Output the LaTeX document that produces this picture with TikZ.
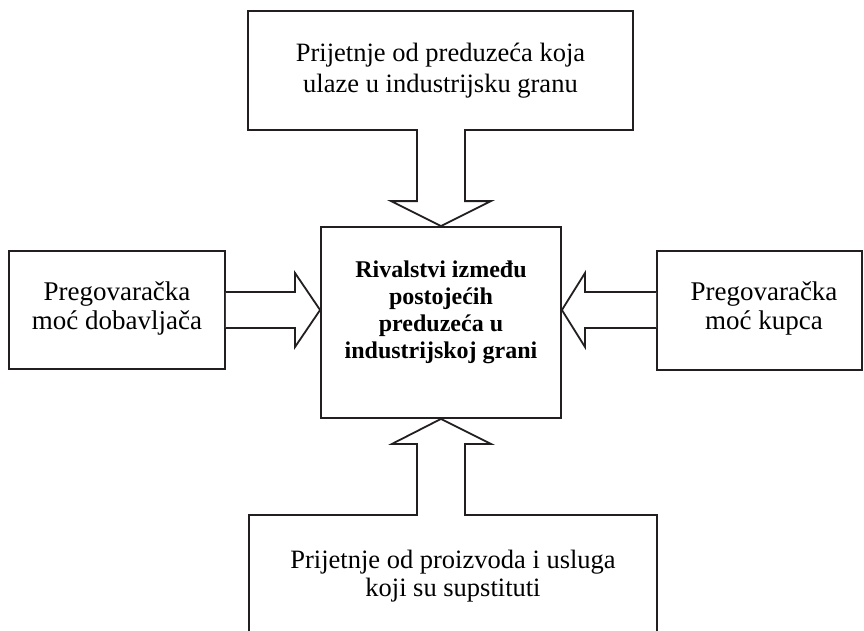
\documentclass[tikz,border=0pt]{standalone}
\usepackage{fontspec}
\setmainfont{Liberation Serif}
\usetikzlibrary{calc}
\definecolor{ink}{HTML}{231F20}
\tikzset{
  box/.style={draw=ink, line width=1.8pt, rectangle, inner sep=0pt},
  bigarrow/.style={draw=ink, line width=1.8pt, line join=miter, fill=white},
  txt/.style={align=center, inner sep=0pt, text=black},
}
\begin{document}
\begin{tikzpicture}[x=1pt,y=-1pt]
\useasboundingbox (0,0) rectangle (864,631);
\clip (0,0) rectangle (864,631);
% boxes
\node[box, minimum width=385pt, minimum height=119pt] (top) at (440.5,70.5) {};
\node[box, minimum width=216pt, minimum height=118pt] (left) at (117,310) {};
\node[box, minimum width=205pt, minimum height=119pt] (right) at (759.5,310.5) {};
\node[box, minimum width=240pt, minimum height=191pt] (cen) at (441,322.5) {};
\node[box, minimum width=408pt, minimum height=140pt] (bot) at (453,585) {};
% texts
\node[txt, font=\fontsize{26.5}{31}\selectfont] (toptxt) at (440.5,71) {Prijetnje od preduzeća koja\\ulaze u industrijsku granu};
\node[txt, font=\fontsize{27}{29}\selectfont] (lefttxt) at (117,308) {Pregovaračka\\moć dobavljača};
\node[txt, font=\fontsize{27}{29}\selectfont] (righttxt) at (764,308) {Pregovaračka\\moć kupca};
\node[txt, font=\bfseries\fontsize{24}{27}\selectfont] (centxt) at (441,312) {Rivalstvi između\\postojećih\\preduzeća u\\industrijskoj grani};
\node[txt, font=\fontsize{26.5}{28}\selectfont] (bottxt) at (453,576) {Prijetnje od proizvoda i usluga\\koji su supstituti};
% arrows
\draw[bigarrow] ($(cen.north)+(-24,-97)$) -- ($(cen.north)+(-24,-25)$) -- ($(cen.north)+(-50,-25)$) -- (cen.north) -- ($(cen.north)+(50,-25)$) -- ($(cen.north)+(24,-25)$) -- ($(cen.north)+(24,-97)$);
\draw[bigarrow] ($(cen.south)+(-24,97)$) -- ($(cen.south)+(-24,25)$) -- ($(cen.south)+(-49,25)$) -- (cen.south) -- ($(cen.south)+(50,25)$) -- ($(cen.south)+(24,25)$) -- ($(cen.south)+(24,97)$);
\draw[bigarrow] (left.east |- 0,292) -- (295,292) -- (295,273) -- (cen.west |- 0,310) -- (295,347) -- (295,328) -- (left.east |- 0,328);
\draw[bigarrow] (right.west |- 0,292) -- (585,292) -- (585,273) -- (cen.east |- 0,310) -- (585,347) -- (585,328) -- (right.west |- 0,328);
\end{tikzpicture}
\end{document}
